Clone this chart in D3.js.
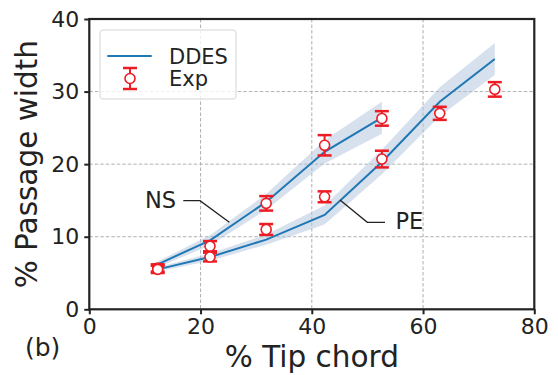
<!DOCTYPE html>
<html>
<head>
<meta charset="utf-8">
<script src="https://cdn.jsdelivr.net/npm/d3@7/dist/d3.min.js"></script>
<style>
  html, body { margin: 0; padding: 0; background: #fff; }
  svg { display: block; font-family: "DejaVu Sans", sans-serif; }
</style>
</head>
<body>
<svg id="chart" width="558" height="375"></svg>
<script>
// ---- data ----
const xNS = [12.3, 21.7, 31.8, 42.3, 52.6];
const ddesNS = [6.2, 9.5, 14.8, 21.7, 26.4];
const bandNS = [0.4, 0.7, 1.1, 1.6, 2.2];
const expNS = [5.7, 8.7, 14.6, 22.6, 26.3];
const errNS = [0.5, 0.7, 1.0, 1.4, 1.0];

const xPE = [12.3, 21.7, 31.8, 42.3, 52.6, 63.0, 72.9];
const ddesPE = [5.5, 7.2, 9.6, 13.0, 20.3, 28.6, 34.5];
const bandPE = [0.3, 0.5, 0.7, 1.3, 1.7, 2.0, 2.2];
const expPE = [5.5, 7.2, 11.0, 15.5, 20.7, 27.0, 30.3];
const errPE = [0.5, 0.6, 0.75, 0.75, 1.15, 0.9, 1.0];

const xTicks = [0, 20, 40, 60, 80];
const yTicks = [0, 10, 20, 30, 40];

// ---- layout ----
const L = 89.3, R = 534.3, T = 19, B = 309.3;
const x = d3.scaleLinear().domain([0, 80]).range([L, R]);
const y = d3.scaleLinear().domain([0, 40]).range([B, T]);

const svg = d3.select("#chart");
const blue = "#1f77b4", red = "#ed1c24", band = "rgba(176,196,222,0.5)";

// grid
const grid = svg.append("g");
grid.selectAll(".gx").data(xTicks.slice(1, -1)).enter().append("line")
  .attr("x1", d => x(d)).attr("x2", d => x(d)).attr("y1", T).attr("y2", B)
  .attr("stroke", "#b0b0b0").attr("stroke-width", 1).attr("stroke-dasharray", "3.5,2");
grid.selectAll(".gy").data(yTicks.slice(1, -1)).enter().append("line")
  .attr("y1", d => y(d)).attr("y2", d => y(d)).attr("x1", L).attr("x2", R)
  .attr("stroke", "#b0b0b0").attr("stroke-width", 1).attr("stroke-dasharray", "3.5,2");

// bands
function drawBand(xs, ys, hs) {
  const pts = xs.map((v, i) => ({x: v, y: ys[i], h: hs[i]}));
  svg.append("path").datum(pts)
    .attr("d", d3.area().x(d => x(d.x)).y0(d => y(d.y - d.h)).y1(d => y(d.y + d.h)))
    .attr("fill", band).attr("stroke", "none");
}
drawBand(xNS, ddesNS, bandNS);
drawBand(xPE, ddesPE, bandPE);

// lines
function drawLine(xs, ys) {
  const pts = xs.map((v, i) => [v, ys[i]]);
  svg.append("path").datum(pts)
    .attr("d", d3.line().x(d => x(d[0])).y(d => y(d[1])))
    .attr("fill", "none").attr("stroke", blue).attr("stroke-width", 2);
}
drawLine(xNS, ddesNS);
drawLine(xPE, ddesPE);

// error bars
function drawExp(xs, ys, es) {
  const g = svg.append("g");
  xs.forEach((v, i) => {
    const cx = x(v), cy = y(ys[i]), y1 = y(ys[i] + es[i]), y2 = y(ys[i] - es[i]);
    g.append("line").attr("x1", cx).attr("x2", cx).attr("y1", y1).attr("y2", y2)
      .attr("stroke", red).attr("stroke-width", 2);
    [y1, y2].forEach(yy => g.append("line").attr("x1", cx - 7).attr("x2", cx + 7)
      .attr("y1", yy).attr("y2", yy).attr("stroke", red).attr("stroke-width", 2.5));
    g.append("circle").attr("cx", cx).attr("cy", cy).attr("r", 5)
      .attr("fill", "#fff").attr("stroke", red).attr("stroke-width", 1.6);
  });
}
drawExp(xNS, expNS, errNS);
drawExp(xPE, expPE, errPE);

// annotations
svg.append("path").attr("d", "M183.3,200.7 L200,200.7 L229.3,222.3")
  .attr("fill", "none").attr("stroke", "#222").attr("stroke-width", 1.3);
svg.append("text").attr("x", 145).attr("y", 207.5).attr("font-size", 22.5).attr("fill", "#222").text("NS");
svg.append("path").attr("d", "M340,200 L367.3,222.3 L385,222.3")
  .attr("fill", "none").attr("stroke", "#222").attr("stroke-width", 1.3);
svg.append("text").attr("x", 395.5).attr("y", 228.5).attr("font-size", 22.5).attr("fill", "#222").text("PE");

// axes frame
svg.append("rect").attr("x", L).attr("y", T).attr("width", R - L).attr("height", B - T)
  .attr("fill", "none").attr("stroke", "#222").attr("stroke-width", 2.2);

// ticks
const xAxis = d3.axisBottom(x).tickValues(xTicks).tickSize(5).tickPadding(4).tickFormat(d3.format("d"));
const gx = svg.append("g").attr("transform", `translate(0,${B})`).call(xAxis);
gx.select(".domain").remove();
gx.selectAll("line").attr("stroke", "#222").attr("stroke-width", 2);
gx.selectAll("text").attr("font-size", 22).attr("fill", "#222").attr("font-family", "DejaVu Sans");

const yAxis = d3.axisLeft(y).tickValues(yTicks).tickSize(5).tickPadding(5).tickFormat(d3.format("d"));
const gy = svg.append("g").attr("transform", `translate(${L},0)`).call(yAxis);
gy.select(".domain").remove();
gy.selectAll("line").attr("stroke", "#222").attr("stroke-width", 2);
gy.selectAll("text").attr("font-size", 22).attr("fill", "#222").attr("font-family", "DejaVu Sans");

// axis labels
svg.append("text").attr("x", (L + R) / 2).attr("y", 366.5).attr("text-anchor", "middle")
  .attr("font-size", 29.5).attr("fill", "#222").text("% Tip chord");
svg.append("text").attr("transform", `translate(37,${(T + B) / 2}) rotate(-90)`)
  .attr("text-anchor", "middle").attr("font-size", 29.5).attr("fill", "#222").text("% Passage width");
svg.append("text").attr("x", 25).attr("y", 356).attr("font-size", 25).attr("fill", "#222").text("(b)");

// legend
const lg = svg.append("g");
lg.append("rect").attr("x", 100).attr("y", 30).attr("width", 136).attr("height", 69).attr("rx", 3)
  .attr("fill", "rgba(255,255,255,0.8)").attr("stroke", "#d5d5d5").attr("stroke-width", 1);
lg.append("line").attr("x1", 107.3).attr("x2", 151.7).attr("y1", 56).attr("y2", 56)
  .attr("stroke", blue).attr("stroke-width", 2);
lg.append("text").attr("x", 169).attr("y", 63.5).attr("font-size", 21).attr("fill", "#222").text("DDES");
const lx = 130, ly = 78.5;
lg.append("line").attr("x1", lx).attr("x2", lx).attr("y1", ly - 10.5).attr("y2", ly + 10.5).attr("stroke", red).attr("stroke-width", 2);
[ly - 10.5, ly + 10.5].forEach(yy => lg.append("line").attr("x1", lx - 7).attr("x2", lx + 7)
  .attr("y1", yy).attr("y2", yy).attr("stroke", red).attr("stroke-width", 2.5));
lg.append("circle").attr("cx", lx).attr("cy", ly).attr("r", 5).attr("fill", "#fff").attr("stroke", red).attr("stroke-width", 1.6);
lg.append("text").attr("x", 169).attr("y", 86).attr("font-size", 21).attr("fill", "#222").text("Exp");
</script>
</body>
</html>
